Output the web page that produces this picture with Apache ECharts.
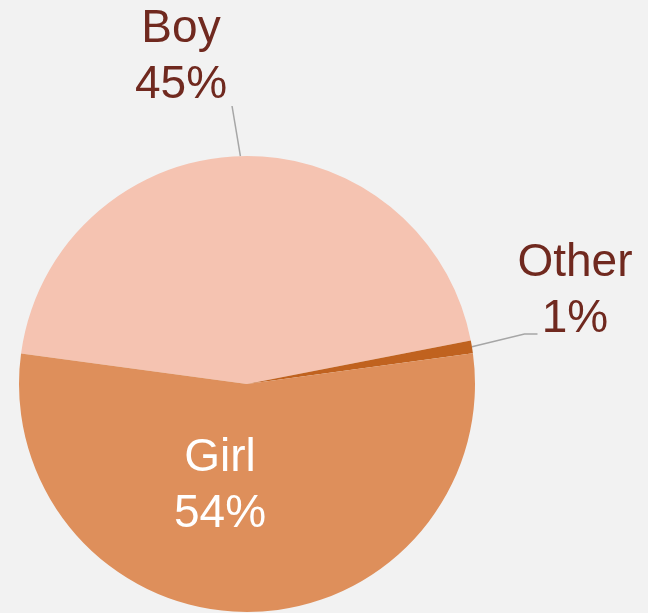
<!DOCTYPE html>
<html>
<head>
<meta charset="utf-8">
<script src="https://cdn.jsdelivr.net/npm/echarts@6/dist/echarts.min.js"></script>
<style>
  html, body { margin: 0; padding: 0; background: #f2f2f2; }
  #chart { width: 648px; height: 613px; }
</style>
</head>
<body>
<div id="chart"></div>
<script>
// 数据（按顺时针绘制顺序）
var categories = ["Boy", "Other", "Girl"];
var values = [44.8, 0.9, 54.3];
var colors = ["#f5c3b1", "#c0621f", "#de8f5b"];

// 标签中心位置
var labelPos = [[181, 57], [575, 291], [220, 486]];

var chart = echarts.init(document.getElementById("chart"));

var data = categories.map(function (name, i) {
  var item = {
    name: name,
    value: values[i],
    itemStyle: { color: colors[i] },
  };
  if (name === "Girl") {
    item.label = { position: "inside", color: "#ffffff" };
    item.labelLine = { show: false };
  }
  return item;
});

var option = {
  backgroundColor: "#f2f2f2",
  animation: false,
  series: [
    {
      type: "pie",
      center: [247, 384],
      radius: 228,
      startAngle: 172.3,
      clockwise: true,
      avoidLabelOverlap: false,
      itemStyle: { borderWidth: 0 },
      label: {
        show: true,
        position: "outside",
        color: "#70291f",
        fontFamily: "Liberation Sans, Arial, sans-serif",
        fontSize: 46,
        lineHeight: 56,
        align: "center",
        formatter: function (params) {
          return params.name + "\n" + Math.round(params.percent) + "%";
        },
      },
      labelLine: {
        show: true,
        length: 20,
        length2: 10,
        smooth: false,
        lineStyle: { color: "#a6a6a6", width: 1.5 },
      },
      labelLayout: function (params) {
        var i = params.dataIndex;
        var pos = labelPos[i];
        var w = params.labelRect.width;
        var h = params.labelRect.height;
        var out = { x: pos[0], y: pos[1], align: "center", verticalAlign: "middle" };
        var pts = params.labelLinePoints;
        if (pts && pts.length) {
          var p0 = pts[0];
          var left = pos[0] - w / 2, right = pos[0] + w / 2, bottom = pos[1] + h / 2;
          if (i === 0) {
            out.labelLinePoints = [p0, [right + 5, bottom - 7]];
          } else if (i === 1) {
            out.labelLinePoints = [p0, [left + 7, bottom - 13], [left + 20, bottom - 13]];
          }
        }
        return out;
      },
      data: data,
    },
  ],
};

chart.setOption(option);
</script>
</body>
</html>
